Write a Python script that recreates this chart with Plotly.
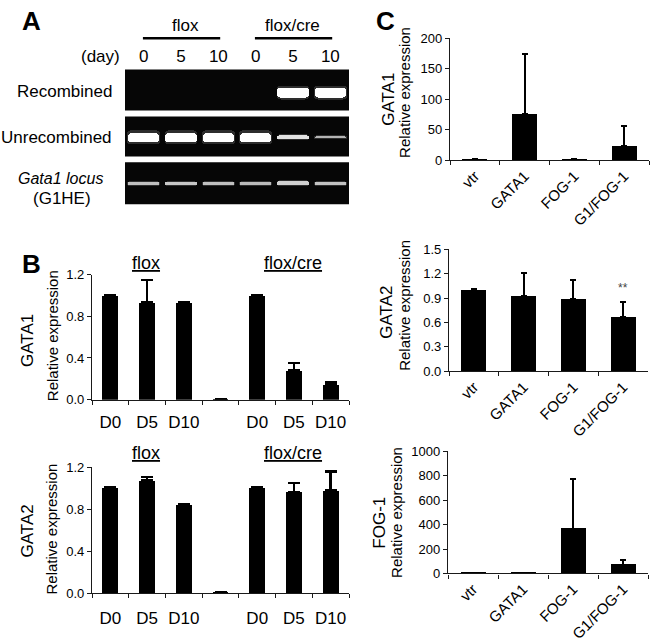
import plotly.graph_objects as go

W, H = 650, 644
FONT = "Liberation Sans, Arial, sans-serif"
NARROW = "Liberation Sans Narrow, Arial Narrow, Liberation Sans, Arial, sans-serif"

# ---------------- data ----------------
# Panel A: gel band strengths (0 = no band) per lane
gel_lanes = ["0", "5", "10", "0", "5", "10"]
band_recombined = [0.0, 0.0, 0.0, 0.0, 1.0, 1.0]
band_unrecombined = [1.0, 1.0, 1.0, 1.0, 0.5, 0.3]
band_g1he = [0.35, 0.38, 0.35, 0.33, 0.42, 0.36]

# Panel B
b_categories = ["flox D0", "flox D5", "flox D10", "gap", "cre D0", "cre D5", "cre D10"]
b_ticklabels = ["D0", "D5", "D10", "", "D0", "D5", "D10"]
b_gata1_mean = [1.00, 0.93, 0.93, 0.004, 1.00, 0.28, 0.14]
b_gata1_err = [0.005, 0.22, 0.006, 0.0, 0.005, 0.07, 0.025]
b_gata2_mean = [1.00, 1.07, 0.835, 0.004, 1.00, 0.96, 0.975]
b_gata2_err = [0.005, 0.035, 0.01, 0.0, 0.005, 0.09, 0.18]

# Panel C
c_categories = ["vtr", "GATA1", "FOG-1", "G1/FOG-1"]
c_gata1_mean = [1.0, 76.0, 1.5, 23.5]
c_gata1_err = [0.8, 99.0, 1.2, 33.0]
c_gata2_mean = [1.00, 0.92, 0.89, 0.67]
c_gata2_err = [0.01, 0.29, 0.23, 0.18]
c_fog1_mean = [3.0, 3.0, 368.0, 72.0]
c_fog1_err = [0.0, 0.0, 410.0, 42.0]


def px(x):
    return x / W


def py(y):
    return 1 - y / H


def sfx(i):
    return "" if i == 1 else str(i)


fig = go.Figure()

# ---------------- Panel A gel ----------------
strips = [band_recombined, band_unrecombined, band_g1he]
strip_px = [(64, 106), (112, 153), (159, 202)]
strip_ranges = [[-0.88, 1.12], [-0.95, 1.05], [-0.98, 1.02]]
for i, (bands, (top, bot), yr) in enumerate(zip(strips, strip_px, strip_ranges), start=1):
    s = sfx(i)
    thick = [0.45 * b for b in bands]
    cols = []
    for b in bands:
        lv = int(110 + 145 * min(1.0, b * 1.6))
        cols.append(f"rgb({lv},{lv},{lv})")
    glow = [t * 1.5 for t in thick]
    fig.add_trace(go.Bar(
        x=list(range(len(bands))), y=glow, base=[-g / 2 for g in glow],
        width=0.88, marker=dict(color="rgba(120,120,120,0.35)", line=dict(width=0),
                                cornerradius=4),
        xaxis=f"x{s}", yaxis=f"y{s}", showlegend=False, hoverinfo="skip"))
    fig.add_trace(go.Bar(
        x=list(range(len(bands))), y=thick, base=[-t / 2 for t in thick],
        width=0.84, marker=dict(color=cols, line=dict(width=0), cornerradius=3),
        xaxis=f"x{s}", yaxis=f"y{s}", showlegend=False, hoverinfo="skip"))
    xa = dict(domain=[px(125), px(349)], range=[-0.5, 5.5], showgrid=False,
              zeroline=False, showticklabels=False, ticks="", anchor=f"y{s}",
              fixedrange=True)
    if i == 1:
        xa.update(side="top", showticklabels=True, tickmode="array",
                  tickvals=list(range(6)), ticktext=gel_lanes,
                  tickfont=dict(family=FONT, size=17, color="black"),
                  ticklabelstandoff=3)
    ya = dict(domain=[py(bot), py(top)], range=yr, showgrid=False,
              zeroline=False, showticklabels=False, ticks="", anchor=f"x{s}",
              fixedrange=True)
    fig.update_layout(**{f"xaxis{s}": xa, f"yaxis{s}": ya})
    fig.add_shape(type="rect", xref=f"x{s} domain", yref=f"y{s} domain",
                  x0=0, x1=1, y0=0, y1=1, fillcolor="#060606",
                  line=dict(width=0), layer="below")

# ---------------- bar chart helper ----------------
AX_COL = "#1a1a1a"


def bar_panel(idx, cats, means, errs, xdom, ydom, yrange, dtick, tfmt,
              ticktext=None, tickangle=0, xfont=15, width=0.45,
              capw=6, thick=2.5, standoff=None):
    s = sfx(idx)
    fig.add_trace(go.Bar(
        x=cats, y=means, width=width,
        marker=dict(color="black", line=dict(width=0)),
        error_y=dict(type="data", symmetric=False, array=errs,
                     arrayminus=[0] * len(errs), color="black",
                     thickness=thick, width=capw),
        xaxis=f"x{s}", yaxis=f"y{s}", showlegend=False))
    xa = dict(domain=xdom, type="category", categoryorder="array",
              categoryarray=cats, tickson="boundaries", ticks="outside",
              ticklen=4, tickcolor=AX_COL, showline=True, linecolor=AX_COL,
              linewidth=1.3, showgrid=False, zeroline=False,
              anchor=f"y{s}", tickangle=tickangle,
              tickfont=dict(family=FONT, size=xfont, color="black"),
              fixedrange=True)
    if standoff is not None:
        xa["ticklabelstandoff"] = standoff
    if ticktext is not None:
        xa.update(tickmode="array", tickvals=cats, ticktext=ticktext)
    ya = dict(domain=ydom, range=yrange, dtick=dtick, tick0=0, tickformat=tfmt,
              ticks="outside", ticklen=4, tickcolor=AX_COL, showline=True,
              linecolor=AX_COL, linewidth=1.3, showgrid=False, zeroline=False,
              anchor=f"x{s}",
              tickfont=dict(family=FONT, size=13, color="black"),
              fixedrange=True)
    fig.update_layout(**{f"xaxis{s}": xa, f"yaxis{s}": ya})


# Panel B
bar_panel(4, b_categories, b_gata1_mean, b_gata1_err,
          [px(92), px(349)], [py(402), py(274)], [0, 1.2], 0.4, ".1f",
          ticktext=b_ticklabels, xfont=17, width=0.43, standoff=7)
bar_panel(5, b_categories, b_gata2_mean, b_gata2_err,
          [px(92), px(349)], [py(600), py(471)], [0, 1.2], 0.4, ".1f",
          ticktext=b_ticklabels, xfont=17, width=0.43, standoff=9)

# Panel C
bar_panel(6, c_categories, c_gata1_mean, c_gata1_err,
          [px(450), px(649)], [py(157), py(32)], [0, 200], 50, "d",
          tickangle=-45, xfont=15, width=0.5, capw=3, thick=2)
bar_panel(7, c_categories, c_gata2_mean, c_gata2_err,
          [px(449), px(648)], [py(373), py(248)], [0, 1.5], 0.3, ".1f",
          tickangle=-45, xfont=15, width=0.5, capw=3, thick=2)
bar_panel(8, c_categories, c_fog1_mean, c_fog1_err,
          [px(448), px(648)], [py(580), py(455)], [0, 1000], 200, "d",
          tickangle=-45, xfont=15, width=0.5, capw=3, thick=2)

# ---------------- annotations ----------------
anns = []


def ann(text, x, y, size=15, xanchor="center", yanchor="middle", angle=0,
        family=FONT, color="black", xref="paper", yref="paper"):
    anns.append(dict(text=text, x=px(x) if xref == "paper" else x,
                     y=py(y) if yref == "paper" else y, xref=xref, yref=yref,
                     xanchor=xanchor, yanchor=yanchor, textangle=angle,
                     showarrow=False,
                     font=dict(family=family, size=size, color=color)))


# panel letters
ann("<b>A</b>", 31, 14, size=26)
ann("<b>B</b>", 31, 263, size=26)
ann("<b>C</b>", 385, 14, size=26)

# Panel A texts
ann("flox", 185, 19, size=17)
ann("flox/cre", 292, 19, size=17)
ann("(day)", 100, 51, size=17)
ann("Recombined", 114, 87, size=17, xanchor="right")
ann("Unrecombined", 114, 134, size=17, xanchor="right")
ann("<i>Gata1 locus</i>", 60, 176, size=16)
ann("(G1HE)", 62, 196, size=17)

# Panel B titles
ann("<u>flox</u>", 146, 262, size=18)
ann("<u>flox/cre</u>", 293, 262, size=18)
ann("<u>flox</u>", 146, 457, size=18)
ann("<u>flox/cre</u>", 293, 457, size=18)

# y labels
ann("GATA1", 27, 342, size=17, angle=-90, family=NARROW)
ann("Relative expression", 52, 337, size=15, angle=-90)
ann("GATA2", 27, 537, size=17, angle=-90, family=NARROW)
ann("Relative expression", 52, 535, size=15, angle=-90)

ann("GATA1", 389, 95, size=17, angle=-90, family=NARROW)
ann("Relative expression", 405, 88, size=15, angle=-90)
ann("GATA2", 387, 313, size=17, angle=-90, family=NARROW)
ann("Relative expression", 405, 306, size=15, angle=-90)
ann("FOG-1", 380, 528, size=17, angle=-90, family=NARROW)
ann("Relative expression", 397, 518, size=15, angle=-90)

# significance marker
ann("**", c_categories[3], c_gata2_mean[3] + c_gata2_err[3] + 0.17, size=12,
    xref="x7", yref="y7", color="#444")

fig.update_layout(annotations=anns)

# group lines in panel A
for x0, x1 in [(0, 2.05), (3, 5.05)]:
    fig.add_shape(type="line", xref="x", yref="paper", x0=x0 - 0.02, x1=x1,
                  y0=py(32), y1=py(32), line=dict(color="black", width=2.5))

fig.update_layout(
    width=W, height=H, margin=dict(l=0, r=0, t=0, b=0),
    paper_bgcolor="white", plot_bgcolor="white", bargap=0, barmode="overlay",
    font=dict(family=FONT, color="black"), showlegend=False,
)

fig.write_html(
    "out.html", config={"displayModeBar": False},
    post_script="document.body.style.margin='0';document.body.style.padding='0';"
                "document.body.style.overflow='hidden';",
)
